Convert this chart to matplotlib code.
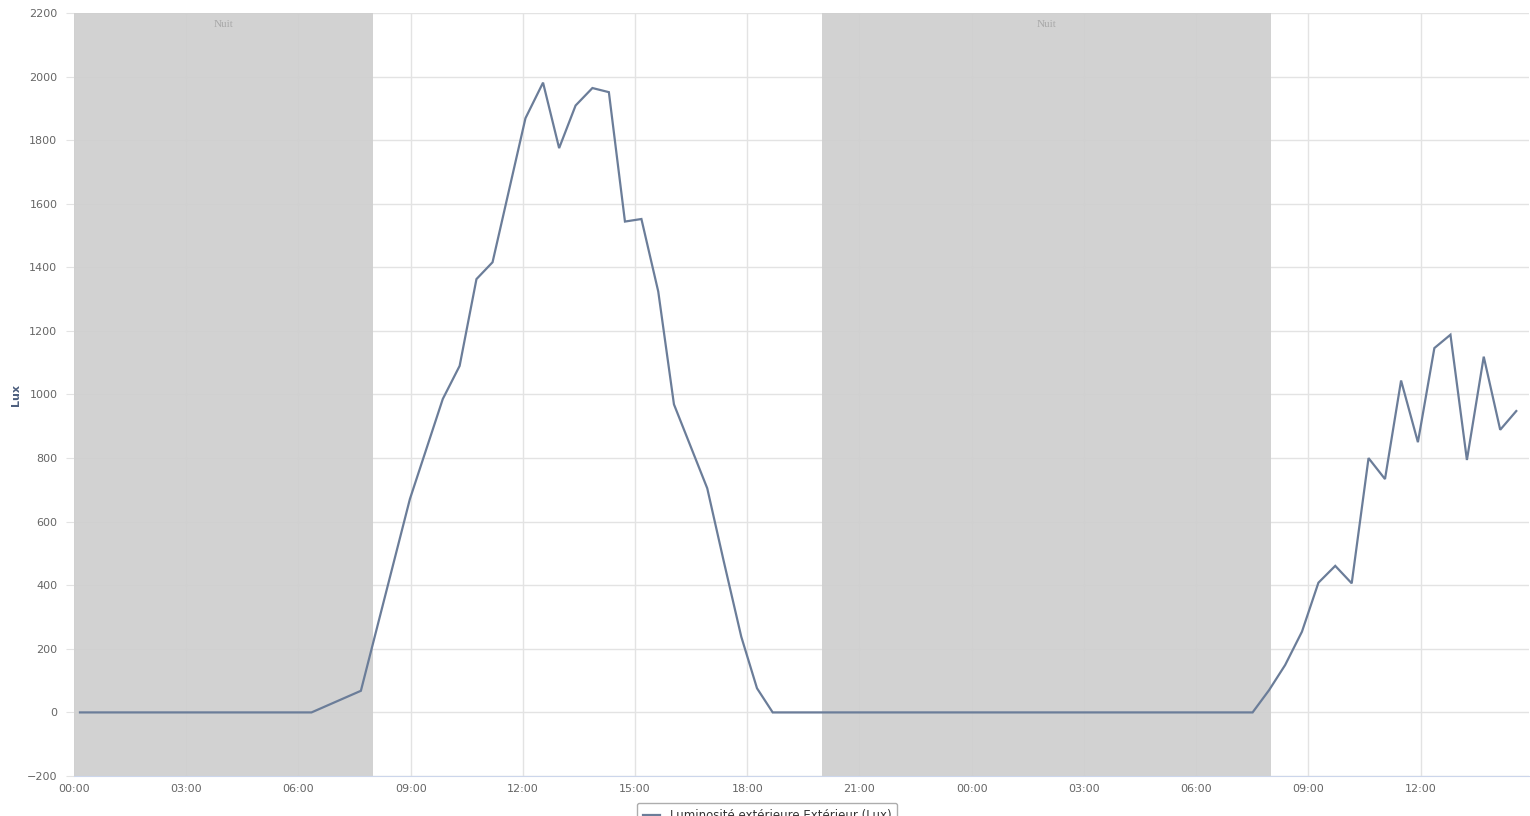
import matplotlib
matplotlib.use('Agg')
from matplotlib import pyplot as plt

# hours since 00:00 of the first day, and outside light in lux
hours = [0.16, 6.35, 7.67, 8.98, 9.86, 10.31, 10.76, 11.19, 12.07, 12.54,
         12.97, 13.41, 13.86, 14.30, 14.73, 15.17, 15.62, 16.04, 16.93, 17.37,
         17.84, 18.26, 18.68, 31.51, 31.95, 32.38, 32.83, 33.27, 33.72, 34.16,
         34.61, 35.05, 35.48, 35.93, 36.37, 36.80, 37.24, 37.69, 38.13, 38.56]
lux = [0, 0, 68, 671, 986, 1090, 1363, 1416, 1869, 1981,
       1775, 1909, 1964, 1951, 1544, 1552, 1324, 969, 705, 476,
       238, 76, 0, 0, 70, 149, 254, 408, 461, 406,
       800, 734, 1044, 850, 1146, 1188, 794, 1119, 889, 948]

# night periods (start, end) in hours
nights = [(0, 8), (20, 32)]
night_label = 'Nuit'

tick_hours = list(range(0, 37, 3))
tick_labels = ['00:00', '03:00', '06:00', '09:00', '12:00', '15:00', '18:00',
               '21:00', '00:00', '03:00', '06:00', '09:00', '12:00']
y_ticks = list(range(-200, 2201, 200))

series_name = 'Luminosité extérieure Extérieur (Lux)'

fig = plt.figure(figsize=(15.3, 8.16), dpi=100)
ax = fig.add_axes([74 / 1530, 40 / 816, 1 - 75 / 1530, 763 / 816])

# bands drawn over the grid, slightly see-through so grid shows faintly
for start, end in nights:
    ax.axvspan(start, end, color='#cecece', alpha=0.9, zorder=0.8, lw=0)
    ax.text((start + end) / 2, 2165, night_label, ha='center', va='center',
            fontsize=8, color='#a8a8a8', family='Liberation Serif')

line, = ax.plot(hours, lux, color='#6b7d99', lw=1.6, zorder=3,
                solid_joinstyle='miter', label=series_name)

ax.set_xlim(0, 38.9)
ax.set_ylim(-200, 2200)
ax.set_xticks(tick_hours)
ax.set_xticklabels(tick_labels)
ax.set_yticks(y_ticks)

ax.set_axisbelow(True)
ax.grid(True, color='#e3e3e3', lw=1)
for s in ['top', 'right', 'left']:
    ax.spines[s].set_visible(False)
ax.spines['bottom'].set_color('#ccd6eb')
ax.tick_params(axis='x', length=0, pad=6, labelsize=8, labelcolor='#666666')
ax.tick_params(axis='y', length=6, color='#e3e3e3', pad=6, labelsize=8,
               labelcolor='#666666')

fig.text(16 / 1530, 1 - 395 / 816, 'Lux', rotation=90, ha='center',
         va='center', fontsize=8, fontweight='bold', color='#4d5f7e')

leg = fig.legend(handles=[line], loc='upper center',
                 bbox_to_anchor=(767 / 1530, 1 - 803 / 816), fontsize=8.5,
                 frameon=True, fancybox=True, edgecolor='#999999',
                 handlelength=1.5, borderpad=0.5, borderaxespad=0)
for t in leg.get_texts():
    t.set_color('#333333')

fig.savefig('out.png', dpi=100)
